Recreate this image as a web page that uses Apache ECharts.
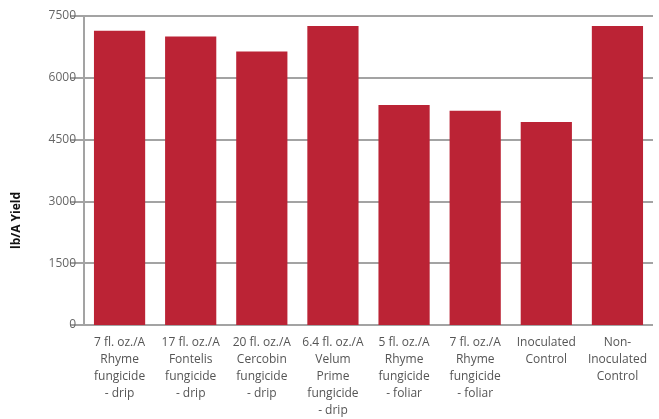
<!DOCTYPE html>
<html>
<head>
<meta charset="utf-8">
<script src="https://cdn.jsdelivr.net/npm/echarts@6/dist/echarts.min.js"></script>
<style>html,body{margin:0;padding:0;background:#fff}#c{width:659px;height:419px}</style>
</head>
<body>
<div id="c"></div>
<script>
const categories = [
  "7 fl. oz./A\nRhyme\nfungicide\n- drip",
  "17 fl. oz./A\nFontelis\nfungicide\n- drip",
  "20 fl. oz./A\nCercobin\nfungicide\n- drip",
  "6.4 fl. oz./A\nVelum\nPrime\nfungicide\n- drip",
  "5 fl. oz./A\nRhyme\nfungicide\n- foliar",
  "7 fl. oz./A\nRhyme\nfungicide\n- foliar",
  "Inoculated\nControl",
  "Non-\nInoculated\nControl"
];
const yieldValues = [7140, 7000, 6640, 7260, 5340, 5200, 4930, 7260];
const yTicks = [0, 1500, 3000, 4500, 6000, 7500];
const yTitle = "lb/A Yield";

const chart = echarts.init(document.getElementById('c'), null, {renderer: 'canvas'});
chart.setOption({
  animation: false,
  textStyle: {fontFamily: "Open Sans"},
  grid: {left: 84, right: 6, top: 16, bottom: 89, containLabel: false},
  xAxis: {
    type: 'category',
    data: categories,
    axisLine: {show: false},
    axisTick: {show: false},
    axisLabel: {
      interval: 0, margin: 9, color: '#555', fontSize: 12, lineHeight: 17,
      fontFamily: "Open Sans"
    }
  },
  yAxis: {
    type: 'value',
    min: yTicks[0], max: yTicks[yTicks.length - 1], interval: 1500,
    axisLine: {show: true, lineStyle: {color: '#a3a3a3', width: 2}},
    axisTick: {show: true, length: 14, lineStyle: {color: '#a3a3a3', width: 2}},
    splitLine: {show: true, lineStyle: {color: '#a3a3a3', width: 2}},
    axisLabel: {color: '#666', fontSize: 12, margin: 8, fontFamily: "Open Sans",
      formatter: function (v) { return String(v); }}
  },
  graphic: [{
    type: 'text',
    rotation: Math.PI / 2,
    style: {text: yTitle, font: 'bold 12px "Open Sans"', fill: '#111'},
    x: 11, y: 249
  }],
  series: [{
    type: 'bar',
    data: yieldValues,
    barCategoryGap: '28%',
    itemStyle: {color: '#bb2335'}
  }]
});
</script>
</body>
</html>
